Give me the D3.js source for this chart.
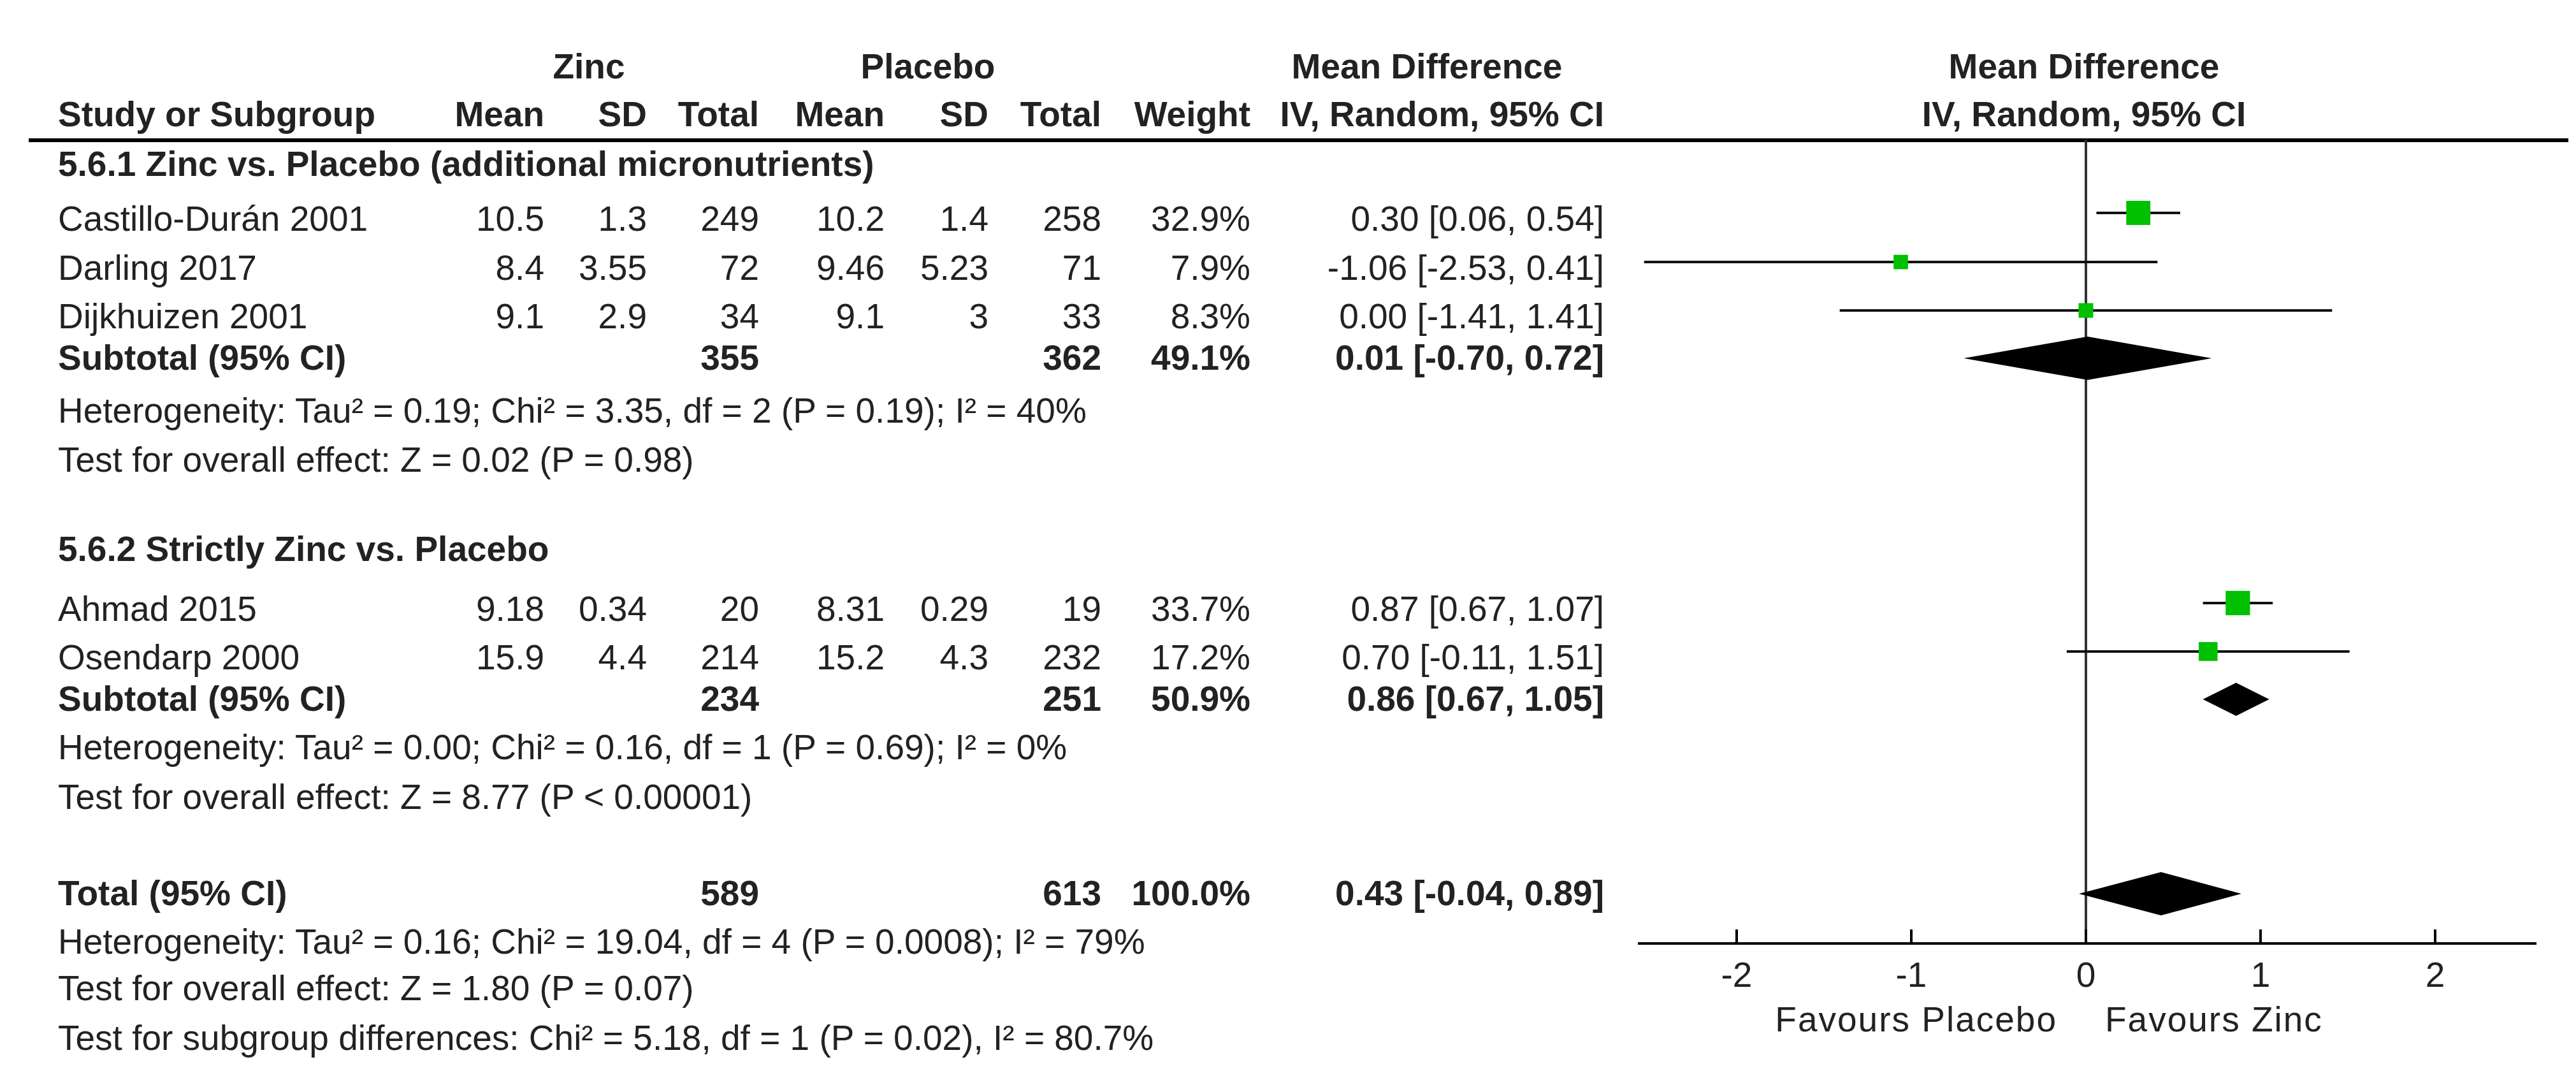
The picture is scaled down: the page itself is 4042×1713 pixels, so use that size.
<!DOCTYPE html>
<html><head><meta charset="utf-8">
<script src="https://cdn.jsdelivr.net/npm/d3@7"></script>
<style>body{margin:0;background:#fff}text{font-family:"Liberation Sans",Arial,sans-serif;fill:#222}</style>
</head><body>
<svg id="chart" width="4042" height="1713"></svg>
<script>
// study rows: name, zinc mean/sd/n, placebo mean/sd/n, weight, md, lo, hi
const studies = ["Castillo-Durán 2001", "Darling 2017", "Dijkhuizen 2001", "Ahmad 2015", "Osendarp 2000"]
const zincMean = ["10.5", "8.4", "9.1", "9.18", "15.9"]
const zincSD = ["1.3", "3.55", "2.9", "0.34", "4.4"]
const zincN = ["249", "72", "34", "20", "214"]
const placMean = ["10.2", "9.46", "9.1", "8.31", "15.2"]
const placSD = ["1.4", "5.23", "3", "0.29", "4.3"]
const placN = ["258", "71", "33", "19", "232"]
const weights = [32.9, 7.9, 8.3, 33.7, 17.2]
const md = [0.30, -1.06, 0.00, 0.87, 0.70]
const lo = [0.06, -2.53, -1.41, 0.67, -0.11]
const hi = [0.54, 0.41, 1.41, 1.07, 1.51]
const studyY = [334, 411, 487, 946, 1022]

const pooledNames = ["Subtotal (95% CI)", "Subtotal (95% CI)", "Total (95% CI)"]
const pooledZincN = ["355", "234", "589"]
const pooledPlacN = ["362", "251", "613"]
const pooledW = ["49.1%", "50.9%", "100.0%"]
const pooledMd = [0.01, 0.86, 0.43]
const pooledLo = [-0.70, 0.67, -0.04]
const pooledHi = [0.72, 1.05, 0.89]
const pooledY = [562, 1097, 1402]

const notes = [
  ["5.6.1 Zinc vs. Placebo (additional micronutrients)", 276, true],
  ["Heterogeneity: Tau² = 0.19; Chi² = 3.35, df = 2 (P = 0.19); I² = 40%", 663, false],
  ["Test for overall effect: Z = 0.02 (P = 0.98)", 740, false],
  ["5.6.2 Strictly Zinc vs. Placebo", 880, true],
  ["Heterogeneity: Tau² = 0.00; Chi² = 0.16, df = 1 (P = 0.69); I² = 0%", 1191, false],
  ["Test for overall effect: Z = 8.77 (P < 0.00001)", 1269, false],
  ["Heterogeneity: Tau² = 0.16; Chi² = 19.04, df = 4 (P = 0.0008); I² = 79%", 1496, false],
  ["Test for overall effect: Z = 1.80 (P = 0.07)", 1569, false],
  ["Test for subgroup differences: Chi² = 5.18, df = 1 (P = 0.02), I² = 80.7%", 1647, false]
]
const ticks = [-2, -1, 0, 1, 2]

const fs = 55
const svg = d3.select("#chart")
// column right edges
const cols = {zm: 854, zs: 1015, zn: 1191, pm: 1388, ps: 1551, pn: 1728, w: 1962, ci: 2517}
const fmt = d3.formatLocale({decimal: ".", thousands: ",", grouping: [3], currency: ["", ""], minus: "-"}).format(".2f")
const ciText = (m, l, h) => fmt(m) + " [" + fmt(l) + ", " + fmt(h) + "]"

const x = d3.scaleLinear().domain([-2, 2]).range([2725, 3821])
const axisY = 1480

function txt(s, xx, yy, anchor, bold) {
  svg.append("text").attr("x", xx).attr("y", yy).attr("font-size", fs)
    .attr("text-anchor", anchor || "start").attr("font-weight", bold ? "bold" : "normal").text(s)
}

// headers
txt("Zinc", 924, 123, "middle", true)
txt("Placebo", 1456, 123, "middle", true)
txt("Mean Difference", 2239, 123, "middle", true)
txt("Mean Difference", 3270, 123, "middle", true)
txt("Study or Subgroup", 91, 198, "start", true)
;[["Mean", cols.zm], ["SD", cols.zs], ["Total", cols.zn], ["Mean", cols.pm], ["SD", cols.ps],
  ["Total", cols.pn], ["Weight", cols.w], ["IV, Random, 95% CI", cols.ci]]
  .forEach(d => txt(d[0], d[1], 198, "end", true))
txt("IV, Random, 95% CI", 3270, 198, "middle", true)
svg.append("line").attr("x1", 45).attr("x2", 4030).attr("y1", 220).attr("y2", 220)
  .attr("stroke", "#000").attr("stroke-width", 6)

notes.forEach(n => txt(n[0], 91, n[1], "start", n[2]))

// study rows
studies.forEach((s, i) => {
  const by = studyY[i] + 28
  txt(s, 91, by)
  txt(zincMean[i], cols.zm, by, "end"); txt(zincSD[i], cols.zs, by, "end"); txt(zincN[i], cols.zn, by, "end")
  txt(placMean[i], cols.pm, by, "end"); txt(placSD[i], cols.ps, by, "end"); txt(placN[i], cols.pn, by, "end")
  txt(weights[i].toFixed(1) + "%", cols.w, by, "end")
  txt(ciText(md[i], lo[i], hi[i]), cols.ci, by, "end")
})
pooledNames.forEach((s, i) => {
  const by = pooledY[i] + 18
  txt(s, 91, by, "start", true)
  txt(pooledZincN[i], cols.zn, by, "end", true)
  txt(pooledPlacN[i], cols.pn, by, "end", true)
  txt(pooledW[i], cols.w, by, "end", true)
  txt(ciText(pooledMd[i], pooledLo[i], pooledHi[i]), cols.ci, by, "end", true)
})

// zero line
svg.append("line").attr("x1", x(0)).attr("x2", x(0)).attr("y1", 220).attr("y2", axisY)
  .attr("stroke", "#333").attr("stroke-width", 4)

// CI lines + squares
const clampX = v => Math.max(2570, Math.min(3980, x(v)))
studies.forEach((s, i) => {
  svg.append("line").attr("x1", clampX(lo[i])).attr("x2", clampX(hi[i]))
    .attr("y1", studyY[i]).attr("y2", studyY[i]).attr("stroke", "#111").attr("stroke-width", 4)
  const sz = 8 + Math.sqrt(weights[i]) * 5.2
  svg.append("rect").attr("x", x(md[i]) - sz / 2).attr("y", studyY[i] - sz / 2)
    .attr("width", sz).attr("height", sz).attr("fill", "#00c000")
})

// diamonds
const diaH = [34, 26, 34]
pooledY.forEach((yy, i) => {
  const h = diaH[i]
  const pts = [[x(pooledLo[i]), yy], [x(pooledMd[i]), yy - h], [x(pooledHi[i]), yy], [x(pooledMd[i]), yy + h]]
  svg.append("polygon").attr("points", pts.map(p => p.join(",")).join(" ")).attr("fill", "#000")
})

// axis
svg.append("line").attr("x1", 2570).attr("x2", 3980).attr("y1", axisY).attr("y2", axisY)
  .attr("stroke", "#000").attr("stroke-width", 4)
ticks.forEach(t => {
  svg.append("line").attr("x1", x(t)).attr("x2", x(t)).attr("y1", axisY - 22).attr("y2", axisY)
    .attr("stroke", "#000").attr("stroke-width", 4)
  svg.append("text").attr("x", x(t)).attr("y", axisY + 68).attr("text-anchor", "middle")
    .attr("font-size", fs).attr("font-family", "DejaVu Sans").text(t)
})
svg.append("text").attr("x", x(0) - 45).attr("y", axisY + 138).attr("text-anchor", "end")
  .attr("font-size", fs).attr("letter-spacing", 2).attr("fill", "#333").text("Favours Placebo")
svg.append("text").attr("x", x(0) + 30).attr("y", axisY + 138).attr("text-anchor", "start")
  .attr("font-size", fs).attr("letter-spacing", 2).attr("fill", "#333").text("Favours Zinc")
</script>
</body></html>
